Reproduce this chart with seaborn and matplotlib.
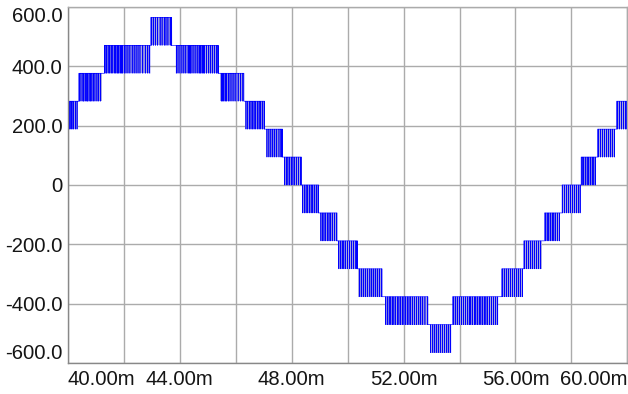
import matplotlib
matplotlib.use("Agg")
import matplotlib.pyplot as plt
import pandas as pd
import seaborn as sns

# Staircase PWM output of a 13-level inverter, one 50 Hz cycle (time in ms)
BLOCK_START = [40.00, 40.39, 41.30, 42.96, 43.85, 45.45, 46.33, 47.07, 47.71, 48.37, 49.01, 49.65,
               50.36, 51.32, 52.93, 53.75, 55.51, 56.30, 57.04, 57.67, 58.35, 58.94, 59.62]
BLOCK_END = [40.36, 41.21, 42.95, 43.71, 45.37, 46.29, 47.03, 47.67, 48.35, 48.96, 49.62, 50.35,
             51.23, 52.87, 53.70, 55.38, 56.26, 56.94, 57.61, 58.32, 58.88, 59.57, 60.00]
BLOCK_LOW = [188, 282, 376, 470, 376, 282, 188, 94, 0, -94, -188, -282,
             -376, -470, -564, -470, -376, -282, -188, -94, 0, 94, 188]
BLOCK_HIGH = [282, 376, 470, 564, 470, 376, 282, 188, 94, 0, -94, -188,
              -282, -376, -470, -376, -282, -188, -94, 0, 94, 188, 282]

# switching instants inside each block (ms)
PULSES = [
    [40.05, 40.10, 40.14, 40.19, 40.26, 40.32],
    [40.40, 40.46, 40.53, 40.56, 40.61, 40.67, 40.70, 40.75, 40.80, 40.85, 40.90, 40.96, 41.03, 41.08, 41.15],
    [41.32, 41.37, 41.43, 41.49, 41.54, 41.60, 41.67, 41.71, 41.76, 41.81, 41.86, 41.90, 41.95, 42.01,
     42.07, 42.14, 42.21, 42.29, 42.36, 42.43, 42.50, 42.57, 42.67, 42.76, 42.85, 42.92],
    [42.99, 43.05, 43.12, 43.20, 43.29, 43.36, 43.44, 43.50, 43.57, 43.65, 43.70],
    [43.87, 43.93, 44.00, 44.07, 44.14, 44.21, 44.29, 44.33, 44.38, 44.43, 44.50, 44.57, 44.64, 44.69,
     44.74, 44.79, 44.83, 44.88, 44.95, 45.03, 45.10, 45.17, 45.24, 45.31, 45.36],
    [45.48, 45.53, 45.57, 45.62, 45.67, 45.73, 45.79, 45.86, 45.93, 46.00, 46.08, 46.17, 46.25],
    [46.36, 46.42, 46.48, 46.54, 46.60, 46.65, 46.71, 46.78, 46.83, 46.89, 46.95, 47.01],
    [47.11, 47.18, 47.25, 47.32, 47.39, 47.46, 47.54, 47.61, 47.65],
    [47.74, 47.80, 47.86, 47.92, 47.98, 48.04, 48.10, 48.17, 48.24, 48.32],
    [48.39, 48.45, 48.51, 48.57, 48.63, 48.69, 48.75, 48.82, 48.88, 48.94],
    [49.04, 49.10, 49.15, 49.21, 49.28, 49.33, 49.39, 49.45, 49.53, 49.60],
    [49.68, 49.74, 49.80, 49.86, 49.92, 49.99, 50.06, 50.13, 50.20, 50.29, 50.33],
    [50.43, 50.50, 50.57, 50.64, 50.71, 50.79, 50.86, 50.93, 51.00, 51.07, 51.14, 51.21],
    [51.36, 51.42, 51.48, 51.54, 51.60, 51.65, 51.71, 51.78, 51.83, 51.89, 51.95, 52.01,
     52.07, 52.13, 52.19, 52.25, 52.32, 52.39, 52.46, 52.54, 52.61, 52.68, 52.76, 52.85],
    [52.96, 53.04, 53.11, 53.18, 53.25, 53.32, 53.39, 53.46, 53.54, 53.61, 53.68],
    [53.79, 53.86, 53.93, 54.00, 54.07, 54.14, 54.21, 54.29, 54.35, 54.40, 54.46, 54.53, 54.58,
     54.64, 54.70, 54.76, 54.82, 54.88, 54.94, 55.00, 55.07, 55.14, 55.21, 55.29, 55.36],
    [55.54, 55.61, 55.68, 55.75, 55.82, 55.89, 55.96, 56.04, 56.11, 56.18, 56.25],
    [56.32, 56.39, 56.46, 56.54, 56.61, 56.68, 56.75, 56.82, 56.89],
    [57.07, 57.13, 57.19, 57.25, 57.31, 57.37, 57.43, 57.50, 57.57],
    [57.68, 57.75, 57.82, 57.89, 57.96, 58.04, 58.11, 58.18, 58.25, 58.31],
    [58.38, 58.44, 58.50, 58.56, 58.62, 58.68, 58.74, 58.80, 58.86],
    [58.96, 59.04, 59.11, 59.18, 59.25, 59.32, 59.39, 59.46, 59.54],
    [59.64, 59.71, 59.79, 59.86, 59.93, 59.98],
]

XTICKS = [40, 44, 48, 52, 56, 60]
XTICK_LABELS = ["40.00m", "44.00m", "48.00m", "52.00m", "56.00m", "60.00m"]
XGRID_MINOR = [42, 46, 50, 54, 58]
YTICKS = [-600, -400, -200, 0, 200, 400, 600]
YTICK_LABELS = ["-600.0", "-400.0", "-200.0", "0", "200.0", "400.0", "600.0"]

PULSE_WIDTH = 0.008  # ms, visual width of each notch

sns.set_theme(style="white")
plt.rcParams["font.family"] = ["Liberation Sans", "DejaVu Sans"]

fig = plt.figure(figsize=(6.28, 3.94), dpi=100)
fig.patch.set_facecolor("white")
ax = fig.add_axes([68 / 628, (394 - 363.3) / 394, (627.3 - 68) / 628, (363.3 - 6.7) / 394])
ax.set_facecolor("white")

# build the switched waveform: sits on the upper level, notches down to the lower level
t, v = [], []
n = len(BLOCK_START)
for i in range(n):
    s, e, lo, hi = BLOCK_START[i], BLOCK_END[i], BLOCK_LOW[i], BLOCK_HIGH[i]
    t.append(s); v.append(hi)
    for p in PULSES[i]:
        t += [p, p, p + PULSE_WIDTH, p + PULSE_WIDTH]
        v += [hi, lo, lo, hi]
    t.append(e); v.append(hi)
    if i + 1 < n:
        shared = hi if hi == BLOCK_LOW[i + 1] else lo
        if shared != hi:
            t.append(e); v.append(shared)
        t.append(BLOCK_START[i + 1]); v.append(shared)

wave = pd.DataFrame({"t": t, "v": v})

# unresolved switching shows as a shaded band inside each block
for s, e, lo, hi in zip(BLOCK_START, BLOCK_END, BLOCK_LOW, BLOCK_HIGH):
    ax.fill_between([s, e], [lo, lo], [hi, hi], color="#a9a9de", lw=0, zorder=1.5)

sns.lineplot(data=wave, x="t", y="v", estimator=None, sort=False,
             color="#0000ff", lw=0.45, ax=ax, zorder=2)

ax.set_xlim(40, 60)
ax.set_ylim(-600, 600)
ax.set_xlabel("")
ax.set_ylabel("")

ax.set_xticks(XTICKS)
ax.set_xticklabels(XTICK_LABELS)
ax.set_xticks(XGRID_MINOR, minor=True)
ax.set_yticks(YTICKS)
ax.set_yticklabels(YTICK_LABELS)

ax.set_axisbelow(True)
ax.grid(True, which="both", color="#ababab", lw=1.0)
ax.tick_params(axis="both", which="both", length=0, labelsize=14.6, colors="#151515")
ax.tick_params(axis="x", pad=4.5)
ax.tick_params(axis="y", pad=3.8)

# keep the end labels inside the plot frame
xt = ax.xaxis.get_major_ticks()
xt[0].label1.set_horizontalalignment("left")
xt[-1].label1.set_horizontalalignment("right")
yt = ax.yaxis.get_major_ticks()
yt[0].label1.set_verticalalignment("bottom")
yt[-1].label1.set_verticalalignment("top")

for side in ["left", "bottom"]:
    ax.spines[side].set_color("#888888")
    ax.spines[side].set_linewidth(1.0)
for side in ["top", "right"]:
    ax.spines[side].set_color("#ababab")
    ax.spines[side].set_linewidth(1.0)

fig.savefig("out.png", dpi=100, facecolor="white")
